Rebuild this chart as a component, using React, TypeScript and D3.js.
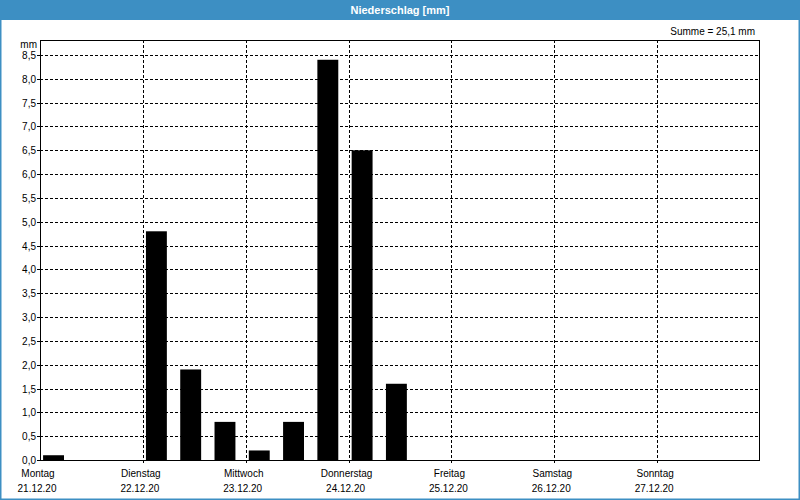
import React from 'react';
import * as d3 from 'd3';

// precipitation per 8-hour interval, Mon 21.12.20 00:00 onward (mm)
const slotValues = [0.1, 0, 0, 4.8, 1.9, 0.8, 0.2, 0.8, 8.4, 6.5, 1.6];
const dayNames = ['Montag', 'Dienstag', 'Mittwoch', 'Donnerstag', 'Freitag', 'Samstag', 'Sonntag'];
const dayDates = ['21.12.20', '22.12.20', '23.12.20', '24.12.20', '25.12.20', '26.12.20', '27.12.20'];
const yTicks = d3.range(0, 8.51, 0.5);
const slotsPerDay = 3;

const W = 800;
const H = 500;
const margin = { top: 40, right: 40, bottom: 40, left: 40 };
const font = '"Liberation Sans", Arial, sans-serif';
const blue = '#3d8fc3';

export default function App() {
  const x = d3.scaleLinear().domain([0, dayNames.length]).range([margin.left, W - margin.right]);
  const y = d3.scaleLinear().domain([0, 8.5]).range([H - margin.bottom, 55]);
  const yTop = margin.top;
  const yBottom = y(0);
  const slotW = x(1 / slotsPerDay) - x(0);
  const total = d3.sum(slotValues);

  return (
    <svg width={W} height={H} style={{ position: 'absolute', left: 0, top: 0 }} fontFamily={font}>
      <rect x={0} y={0} width={W} height={H} fill="#fff" />
      <rect x={0.5} y={0.5} width={W - 1} height={H - 1} fill="none" stroke={blue} strokeWidth={2} />
      <rect x={0} y={0} width={W} height={20} fill={blue} />
      <text x={W / 2} y={14} textAnchor="middle" fill="#fff" fontSize={11} fontWeight="bold">
        Niederschlag [mm]
      </text>
      <text x={755} y={35} textAnchor="end" fontSize={10} fill="#000">
        {`Summe = ${total.toFixed(1).replace('.', ',')} mm`}
      </text>
      <text x={37} y={48} textAnchor="end" fontSize={10} fill="#000">mm</text>

      {/* horizontal grid + y labels */}
      {yTicks.map((t) => (
        <g key={t}>
          {t > 0 && (
            <line x1={x(0)} x2={x(7)} y1={Math.round(y(t)) + 0.5} y2={Math.round(y(t)) + 0.5}
              stroke="#000" strokeDasharray="3,2" />
          )}
          <line x1={x(0) - 3} x2={x(0)} y1={Math.round(y(t)) + 0.5} y2={Math.round(y(t)) + 0.5} stroke="#000" />
          <text x={36} y={y(t) + 4} textAnchor="end" fontSize={10} fill="#000">
            {t.toFixed(1).replace('.', ',')}
          </text>
        </g>
      ))}

      {/* vertical day lines + labels */}
      {dayNames.map((d, i) => (
        <g key={d}>
          {i > 0 && (
            <line x1={Math.round(x(i)) + 0.5} x2={Math.round(x(i)) + 0.5} y1={yTop} y2={yBottom + 3}
              stroke="#000" strokeDasharray="3,2" />
          )}
          <text x={x(i) - 2} y={477} textAnchor="middle" fontSize={10} fill="#000">{d}</text>
          <text x={x(i) - 3} y={492} textAnchor="middle" fontSize={10} fill="#000">{dayDates[i]}</text>
        </g>
      ))}

      {/* bars */}
      {slotValues.map((v, i) =>
        v > 0 ? (
          <rect key={i}
            x={x(i / slotsPerDay) + slotW * 0.09}
            width={slotW * 0.61}
            y={y(v)}
            height={yBottom - y(v)}
            fill="#000" />
        ) : null
      )}

      {/* plot frame */}
      <rect x={x(0) + 0.5} y={yTop + 0.5} width={x(7) - x(0) - 1} height={yBottom - yTop} fill="none" stroke="#000" />
    </svg>
  );
}
